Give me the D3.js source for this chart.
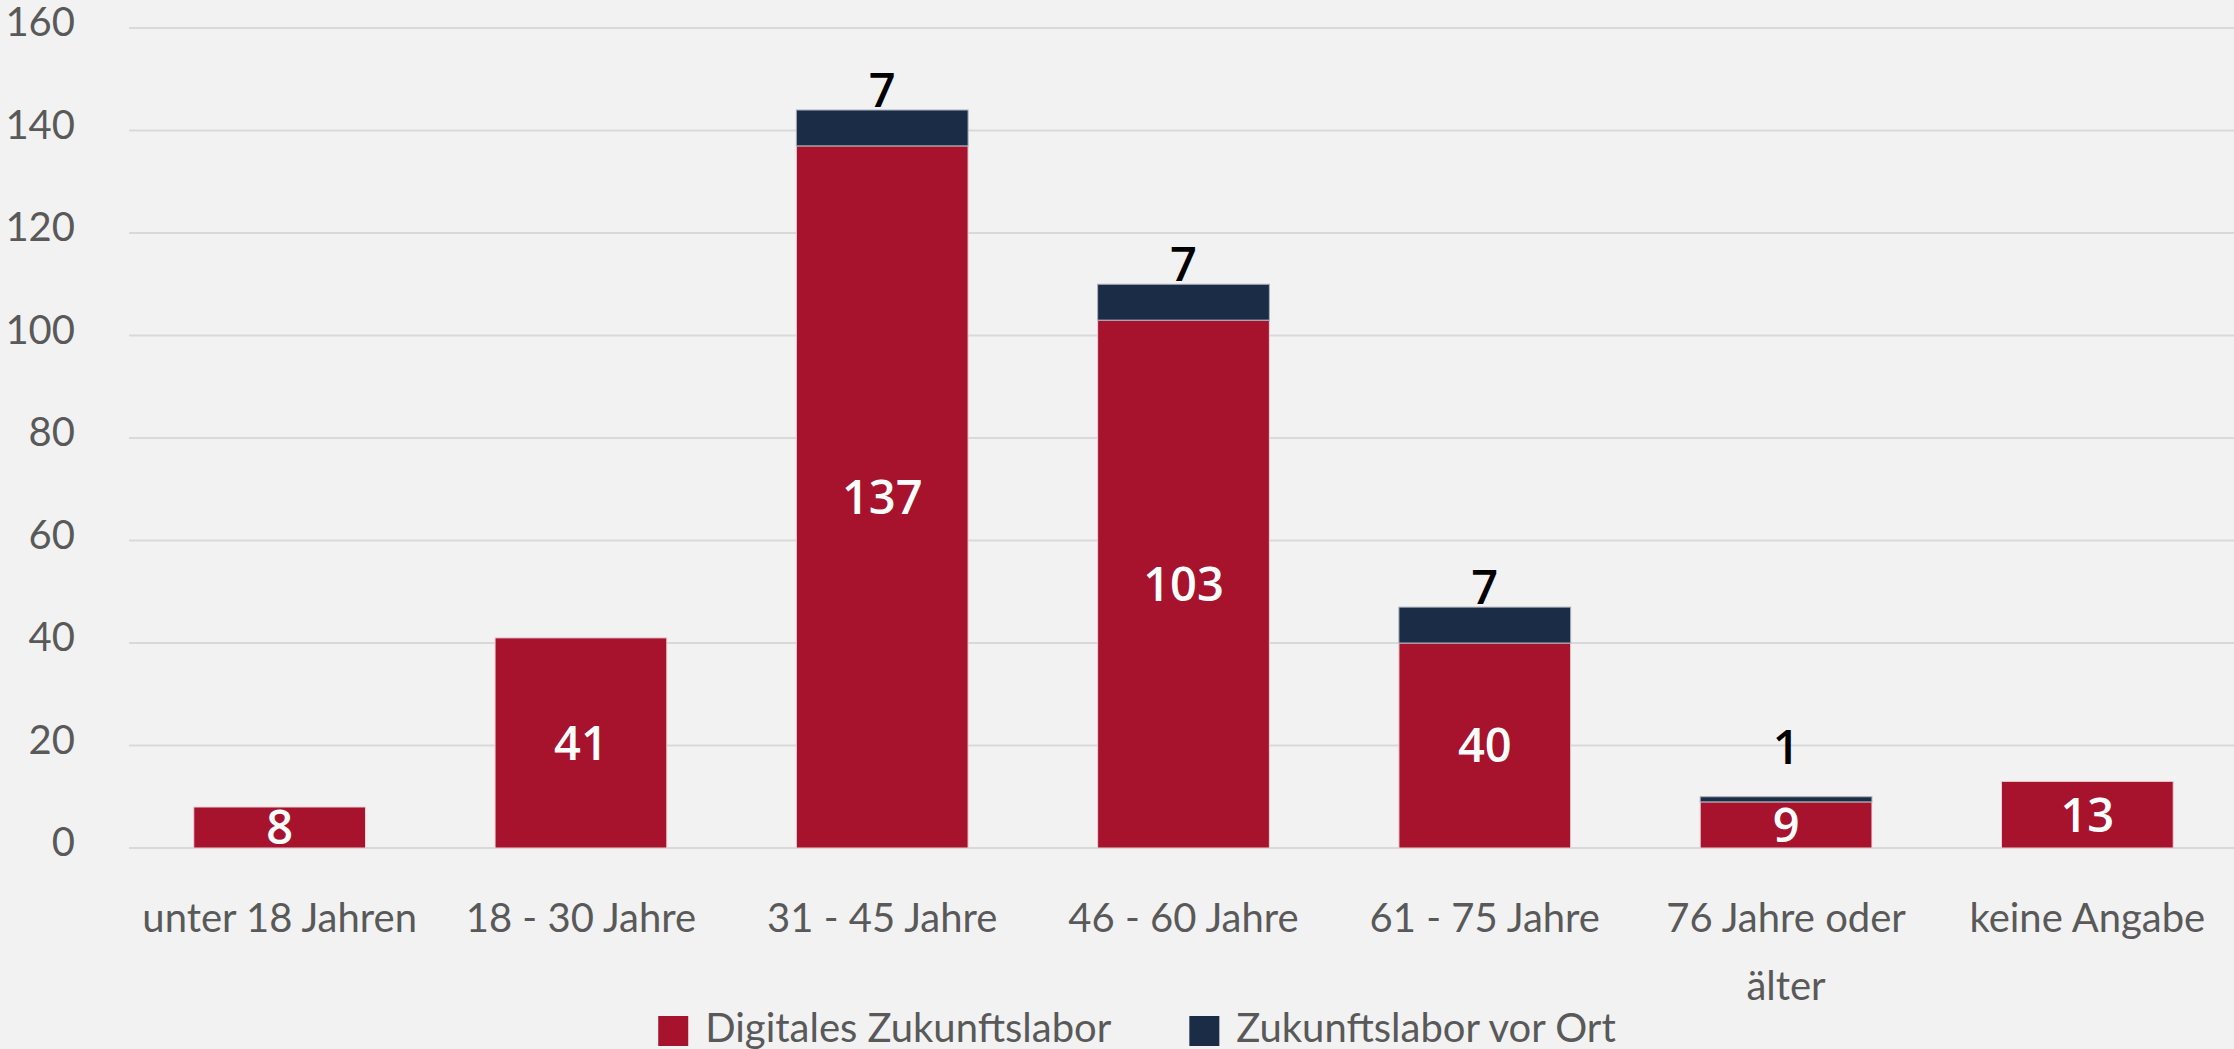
<!DOCTYPE html>
<html>
<head>
<meta charset="utf-8">
<script src="https://cdn.jsdelivr.net/npm/d3@7"></script>
<style>
  html, body { margin: 0; padding: 0; background: #f2f2f2; }
  svg { display: block; }
</style>
</head>
<body>
<script>
// data
let categories = ["unter 18 Jahren", "18 - 30 Jahre", "31 - 45 Jahre", "46 - 60 Jahre", "61 - 75 Jahre", "76 Jahre oder älter", "keine Angabe"];
let digital = [8, 41, 137, 103, 40, 9, 13];
let vorOrt = [0, 0, 7, 7, 7, 1, 0];
let seriesNames = ["Digitales Zukunftslabor", "Zukunftslabor vor Ort"];
let yTicks = [0, 20, 40, 60, 80, 100, 120, 140, 160];

let W = 2234, H = 1049;
let red = "#a7132c", navy = "#1b2c47";
let axisFont = "Lato, 'Open Sans', sans-serif";
let labelFont = "'Open Sans', 'Noto Sans', sans-serif";

let svg = d3.select("body").append("svg").attr("width", W).attr("height", H);
svg.append("rect").attr("width", W).attr("height", H).attr("fill", "#f2f2f2");

let x = d3.scaleBand().domain(categories).range([129, 2238]).paddingInner(0.43).paddingOuter(0.215);
let y = d3.scaleLinear().domain([0, 160]).range([848, 28]);

// gridlines
svg.selectAll("line.grid")
  .data(yTicks)
  .enter().append("line")
    .attr("class", "grid")
    .attr("x1", 129).attr("x2", W)
    .attr("y1", d => y(d)).attr("y2", d => y(d))
    .attr("stroke", "#d9d9d9").attr("stroke-width", 2);

// y tick labels
svg.selectAll("text.ytick")
  .data(yTicks)
  .enter().append("text")
    .attr("class", "ytick")
    .attr("x", 75)
    .attr("y", d => y(d) + 8)
    .attr("text-anchor", "end")
    .attr("font-family", axisFont).attr("font-size", 40)
    .attr("fill", "#595959")
    .text(d => d);

let rows = categories.map((c, i) => ({cat: c, a: digital[i], b: vorOrt[i]}));

// red segments
svg.selectAll("rect.digital")
  .data(rows)
  .enter().append("rect")
    .attr("class", "digital")
    .attr("x", d => x(d.cat))
    .attr("width", x.bandwidth())
    .attr("y", d => y(d.a))
    .attr("height", d => y(0) - y(d.a))
    .attr("fill", red)
    .attr("stroke", "#e6d3d6").attr("stroke-width", 1);

// navy segments
svg.selectAll("rect.vorort")
  .data(rows.filter(d => d.b > 0))
  .enter().append("rect")
    .attr("class", "vorort")
    .attr("x", d => x(d.cat))
    .attr("width", x.bandwidth())
    .attr("y", d => y(d.a + d.b))
    .attr("height", d => y(d.a) - y(d.a + d.b))
    .attr("fill", navy)
    .attr("stroke", "#a9b0bb").attr("stroke-width", 1);

// white labels inside red segments
svg.selectAll("text.lab-a")
  .data(rows)
  .enter().append("text")
    .attr("class", "lab-a")
    .attr("x", d => x(d.cat) + x.bandwidth() / 2)
    .attr("y", d => y(d.a / 2))
    .attr("dy", "0.36em")
    .attr("text-anchor", "middle")
    .attr("font-family", labelFont).attr("font-size", 47).attr("font-weight", 600)
    .attr("fill", "#ffffff")
    .text(d => d.a);

// black labels above navy segments, kept clear of the white label
svg.selectAll("text.lab-b")
  .data(rows.filter(d => d.b > 0))
  .enter().append("text")
    .attr("class", "lab-b")
    .attr("x", d => x(d.cat) + x.bandwidth() / 2)
    .attr("y", d => Math.min(y(d.a + d.b) - 3, y(d.a / 2) - 18 - 43))
    .attr("text-anchor", "middle")
    .attr("font-family", labelFont).attr("font-size", 47).attr("font-weight", 600)
    .attr("fill", "#000000")
    .text(d => d.b);

// category labels with wrapping
let catText = svg.selectAll("text.xcat")
  .data(categories)
  .enter().append("text")
    .attr("class", "xcat")
    .attr("x", d => x(d) + x.bandwidth() / 2)
    .attr("y", 932)
    .attr("text-anchor", "middle")
    .attr("font-family", axisFont).attr("font-size", 40)
    .attr("fill", "#595959");

catText.each(function(d) {
  let el = d3.select(this);
  let cx = x(d) + x.bandwidth() / 2;
  let words = d.split(" ");
  let line = [];
  let lineNo = 0;
  let tspan = el.append("tspan").attr("x", cx).attr("dy", 0);
  words.forEach(w => {
    line.push(w);
    tspan.text(line.join(" "));
    if (tspan.node().getComputedTextLength() > x.step() - 6 && line.length > 1) {
      line.pop();
      tspan.text(line.join(" "));
      line = [w];
      lineNo++;
      tspan = el.append("tspan").attr("x", cx).attr("dy", 68).text(w);
    }
  });
});

// legend
let legend = svg.append("g");
let colors = [red, navy];
let lx = 0;
seriesNames.forEach((name, i) => {
  let g = legend.append("g").attr("transform", `translate(${lx},0)`);
  g.append("rect").attr("x", 0).attr("y", 1016).attr("width", 30).attr("height", 30).attr("fill", colors[i]);
  let t = g.append("text").attr("x", 47).attr("y", 1042)
    .attr("font-family", axisFont).attr("font-size", 40).attr("fill", "#595959").text(name);
  lx += 47 + t.node().getComputedTextLength() + 78;
});
let legendW = lx - 78;
legend.attr("transform", `translate(${1137 - legendW / 2},0)`);
</script>
</body>
</html>
